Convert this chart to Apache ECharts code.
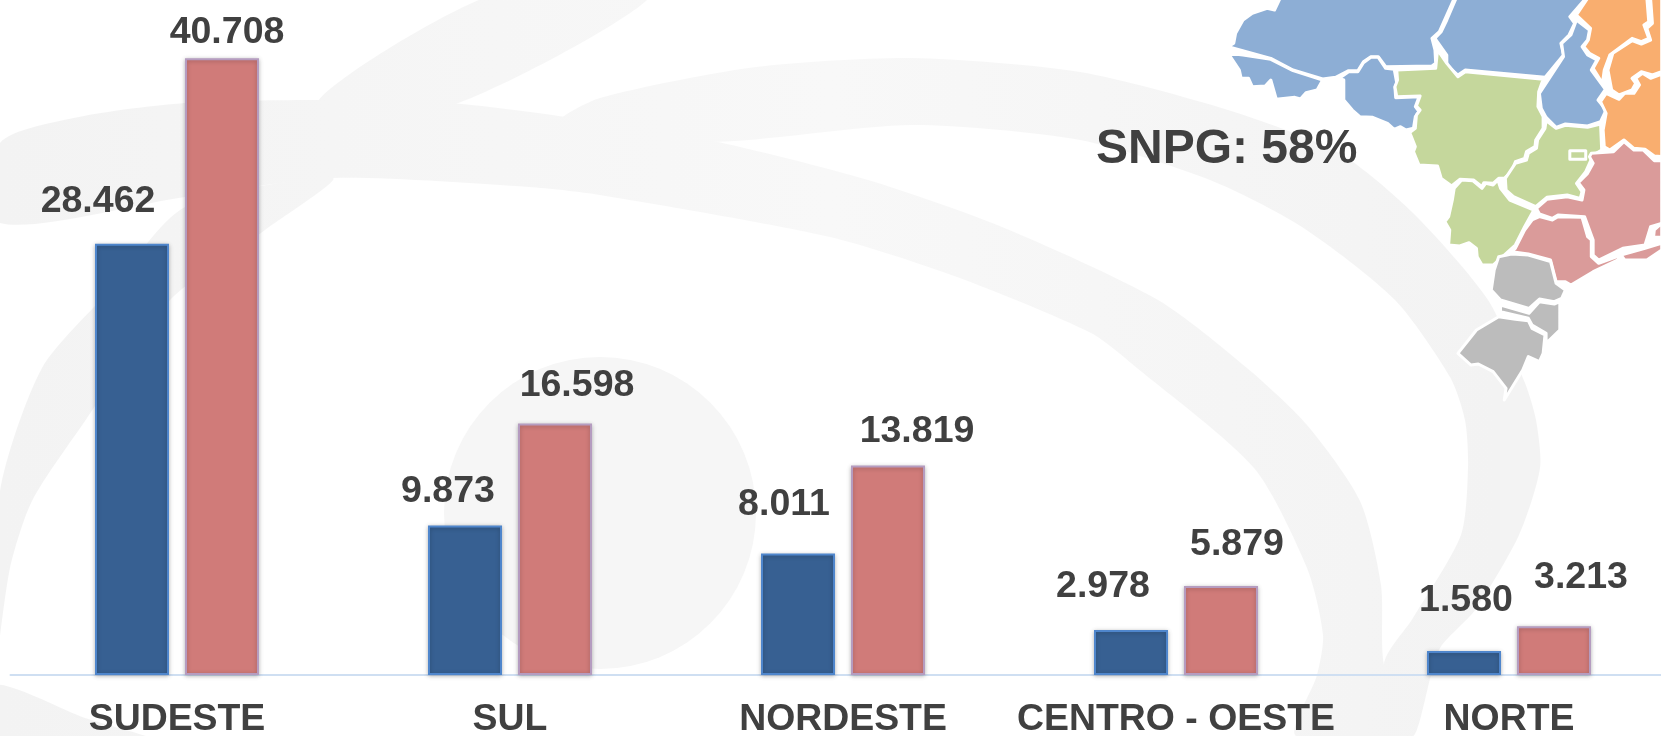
<!DOCTYPE html>
<html>
<head>
<meta charset="utf-8">
<style>
    html, body { margin: 0; padding: 0; background: #fff; overflow: hidden; width: 1661px; height: 736px; }
    #chart { width: 1661px; height: 736px; }
</style>
<script src="https://cdn.jsdelivr.net/npm/echarts@6/dist/echarts.min.js"></script>
</head>
<body>
<div id="chart"></div>
<script>
// Data
const categories = ['SUDESTE', 'SUL', 'NORDESTE', 'CENTRO - OESTE', 'NORTE'];
const valuesBlue = [28462, 9873, 8011, 2978, 1580];
const valuesRed = [40708, 16598, 13819, 5879, 3213];

// Hand-placed label nudges, the source slide has them dragged around
const labelOffsetBlue = [[-34, -26], [-17, -18], [-14, -33], [-28, -27], [2, -34]];
const labelOffsetRed = [[5, -10], [22, -22], [29, -18], [16, -25], [27, -33]];

const textColor = '#404040';
const fontFamily = '"Liberation Sans", Arial, sans-serif';

// Watermark swooshes behind the chart (page pixels)
const swooshes = [
    { pts: [[0,143],[79,117],[185,103],[318,100],[450,103],[566,117],[709,140],[868,180],[1002,227],[1158,300],[1247,368],[1307,425],[1360,501],[1381,585],[1384,665],[1413,736],[1296,736],[1317,675],[1323,635],[1307,568],[1254,468],[1137,368],[1091,333],[957,277],[830,237],[600,195],[529,187],[333,178],[185,197],[0,223]] },
    { pts: [[318,102],[492,-5],[651,-5],[450,106]] },
    { pts: [[560,122],[600,98],[756,67],[912,58],[1080,72],[1228,110],[1339,153],[1413,213],[1488,300],[1525,383],[1536,420],[1540,468],[1519,535],[1475,610],[1439,650],[1413,736],[1384,665],[1413,618],[1461,535],[1468,468],[1465,420],[1450,377],[1395,300],[1302,227],[1210,180],[1080,140],[912,125],[707,142]] },
    { pts: [[185,207],[110,290],[42,368],[0,491],[-5,668],[10,568],[32,501],[85,421],[170,300],[265,230],[333,178]] },
    { pts: [[-5,685],[85,718],[153,740],[-5,740]] }
];

const mapBlue = '#8daed5', mapGreen = '#c5d79c', mapOrange = '#f9ae6f', mapPink = '#da9b9a', mapGrey = '#bcbcbc';
const mapRegions = [
    { fill: mapBlue, pts: [[540,-5],[525,30],[505,25],[465,40],[440,60],[420,100],[415,130],[400,140],[515,175],[575,210],[655,237],[690,232],[725,212],[750,212],[765,185],[785,170],[805,170],[825,200],[950,198],[960,190],[958,150],[950,115],[970,95],[1010,-5]] },
    { fill: mapBlue, pts: [[400,160],[430,210],[435,235],[455,235],[465,260],[500,258],[515,240],[530,298],[580,292],[595,297],[610,278],[640,270],[655,240],[575,212],[515,178],[440,165]] },
    { fill: mapBlue, pts: [[700,235],[725,215],[750,215],[765,188],[785,172],[805,172],[825,205],[848,208],[855,250],[850,262],[852,293],[915,290],[905,320],[915,335],[905,350],[900,385],[880,390],[865,380],[848,388],[830,370],[790,352],[755,350],[735,330],[712,300],[712,240]] },
    { fill: mapBlue, pts: [[1015,-5],[990,60],[975,95],[958,115],[990,165],[990,195],[1020,225],[1040,210],[1255,232],[1305,165],[1298,130],[1320,105],[1335,70],[1322,50],[1365,-5]] },
    { fill: mapBlue, pts: [[1340,60],[1375,90],[1370,120],[1355,140],[1370,165],[1395,180],[1380,210],[1418,268],[1398,300],[1420,330],[1405,365],[1370,378],[1310,372],[1285,382],[1258,352],[1245,325],[1240,280],[1305,170],[1300,130],[1325,105]] },
    { fill: mapGreen, pts: [[855,210],[960,205],[965,150],[990,190],[1020,230],[1040,215],[1250,238],[1238,275],[1236,320],[1250,350],[1250,385],[1230,420],[1228,440],[1205,455],[1200,475],[1175,485],[1165,515],[1145,535],[1130,535],[1115,550],[1090,548],[1085,560],[1062,540],[1025,538],[1003,558],[975,535],[965,498],[915,495],[900,455],[905,440],[890,398],[905,385],[908,345],[918,330],[908,318],[918,288],[855,290],[850,260],[857,240]] },
    { fill: mapGreen, pts: [[1258,362],[1285,385],[1310,376],[1370,382],[1405,372],[1408,450],[1385,465],[1375,490],[1365,515],[1340,550],[1355,575],[1350,595],[1315,585],[1260,592],[1230,620],[1170,590],[1150,570],[1148,535],[1175,490],[1205,480],[1210,460],[1232,445],[1235,420],[1255,385]] },
    { fill: mapGreen, pts: [[1322,452],[1365,452],[1365,478],[1322,478]] },
    { fill: mapGreen, pts: [[1030,540],[1060,542],[1085,565],[1095,550],[1115,555],[1128,540],[1135,565],[1160,600],[1225,630],[1200,680],[1175,735],[1115,795],[1085,795],[1072,770],[1070,745],[1050,728],[1025,738],[995,735],[998,690],[985,665],[995,650],[1005,600],[1010,565]] },
    { fill: mapPink, pts: [[1240,650],[1275,660],[1290,650],[1355,652],[1370,710],[1380,720],[1380,770],[1400,790],[1450,770],[1455,778],[1385,815],[1325,855],[1310,845],[1285,845],[1270,780],[1210,762],[1165,755],[1175,745],[1200,690],[1220,660]] },
    { fill: mapPink, pts: [[1380,460],[1440,455],[1468,425],[1495,450],[1520,450],[1550,482],[1570,482],[1570,670],[1540,680],[1525,735],[1465,745],[1400,780],[1385,765],[1385,720],[1362,650],[1290,645],[1275,655],[1240,642],[1232,625],[1260,598],[1315,590],[1355,600],[1360,570],[1345,548],[1370,520],[1385,490],[1375,470]] },
    { fill: mapPink, pts: [[1460,765],[1525,745],[1570,730],[1570,750],[1530,780],[1490,780],[1470,780]] },
    { fill: mapPink, pts: [[1550,690],[1570,670],[1570,712],[1548,712]] },
    { fill: mapOrange, pts: [[1420,280],[1455,298],[1470,280],[1495,280],[1510,255],[1500,235],[1518,220],[1540,235],[1570,222],[1570,470],[1550,468],[1525,448],[1495,445],[1468,420],[1430,450],[1415,440],[1412,390],[1420,340],[1405,305]] },
    { fill: mapOrange, pts: [[1370,-5],[1340,45],[1378,85],[1372,120],[1360,140],[1375,160],[1400,175],[1385,205],[1410,250],[1415,210],[1430,165],[1490,115],[1515,125],[1535,115],[1522,75],[1535,65],[1530,-5]] },
    { fill: mapOrange, pts: [[1540,-5],[1545,70],[1530,85],[1540,120],[1515,132],[1490,122],[1438,160],[1425,210],[1435,270],[1455,285],[1490,270],[1500,250],[1490,235],[1515,215],[1545,225],[1570,215],[1570,-5]] },
    { fill: mapGrey, pts: [[1130,770],[1165,762],[1210,765],[1270,785],[1285,850],[1310,870],[1300,895],[1280,905],[1240,897],[1212,925],[1135,900],[1110,870],[1118,810]] },
    { fill: mapGrey, pts: [[1135,915],[1212,940],[1240,905],[1280,912],[1295,905],[1295,990],[1258,1030],[1258,1000],[1220,975],[1210,955],[1135,935]] },
    { fill: mapGrey, pts: [[1130,950],[1175,958],[1210,962],[1220,985],[1255,1005],[1250,1060],[1240,1085],[1210,1070],[1195,1110],[1145,1200],[1150,1165],[1115,1115],[1075,1092],[1055,1095],[1020,1060],[1070,990]] }
];

function toPage(p) {
    return [1080 + p[0] / 2.699, p[1] / 3];
}

function formatThousands(v) {
    return String(v).replace(/\B(?=(\d{3})+$)/g, '.');
}

function barData(values, offsets) {
    return values.map((v, i) => ({ value: v, label: { offset: offsets[i] } }));
}

// Watermark is darker at both ends of the slide, almost gone in the middle
const swooshFill = {
    type: 'linear', x: 0, y: 0, x2: 1661, y2: 0, global: true,
    colorStops: [
        { offset: 0, color: '#f3f3f3' },
        { offset: 0.5, color: '#f8f8f8' },
        { offset: 0.9, color: '#f3f3f3' },
        { offset: 1, color: '#f3f3f3' }
    ]
};

const graphicElements = [];
swooshes.forEach(s => {
    graphicElements.push({
        type: 'polygon', z: -10, silent: true,
        shape: { points: s.pts, smooth: 0.25 },
        style: { fill: swooshFill }
    });
});
graphicElements.push({
    type: 'circle', z: -10, silent: true,
    shape: { cx: 600, cy: 513, r: 156 },
    style: { fill: '#f6f6f6' }
});
mapRegions.forEach(r => {
    graphicElements.push({
        type: 'polygon', z: 5, silent: true,
        shape: { points: r.pts.map(toPage) },
        style: { fill: r.fill, stroke: '#fff', lineWidth: 3, lineJoin: 'round' }
    });
});
graphicElements.push({
    type: 'text', z: 6, left: 1096, top: 126,
    style: { text: 'SNPG: 58%', fill: textColor, font: 'bold 48px ' + fontFamily }
});

const chart = echarts.init(document.getElementById('chart'), null, { renderer: 'canvas' });

const barLabel = {
    show: true,
    position: 'top',
    distance: -3,
    color: textColor,
    fontFamily: fontFamily,
    fontWeight: 'bold',
    fontSize: 37.5,
    formatter: p => formatThousands(p.value)
};

chart.setOption({
    animation: false,
    backgroundColor: '#fff',
    graphic: { elements: graphicElements },
    grid: { left: 10.5, top: 0, width: 1665, height: 675, outerBoundsMode: 'none' },
    xAxis: {
        type: 'category',
        data: categories,
        axisLine: { lineStyle: { color: '#cfdff2', width: 2 } },
        axisTick: { show: false },
        axisLabel: {
            color: textColor,
            fontFamily: fontFamily,
            fontWeight: 'bold',
            fontSize: 37.4,
            margin: 26,
            interval: 0
        }
    },
    yAxis: { type: 'value', min: 0, max: 44550, show: false, splitLine: { show: false } },
    series: [
        {
            type: 'bar',
            data: barData(valuesBlue, labelOffsetBlue),
            barWidth: 74,
            barGap: '21.6%',
            label: barLabel,
            itemStyle: {
                color: '#376092',
                borderColor: '#4f86cc',
                borderWidth: 2,
                shadowBlur: 4,
                shadowColor: 'rgba(0,0,0,0.25)',
                shadowOffsetY: 1
            }
        },
        {
            type: 'bar',
            data: barData(valuesRed, labelOffsetRed),
            barWidth: 74,
            label: barLabel,
            itemStyle: {
                color: '#d07b79',
                borderColor: '#b59cc0',
                borderWidth: 2,
                shadowBlur: 4,
                shadowColor: 'rgba(0,0,0,0.25)',
                shadowOffsetY: 1
            }
        }
    ]
});
</script>
</body>
</html>
